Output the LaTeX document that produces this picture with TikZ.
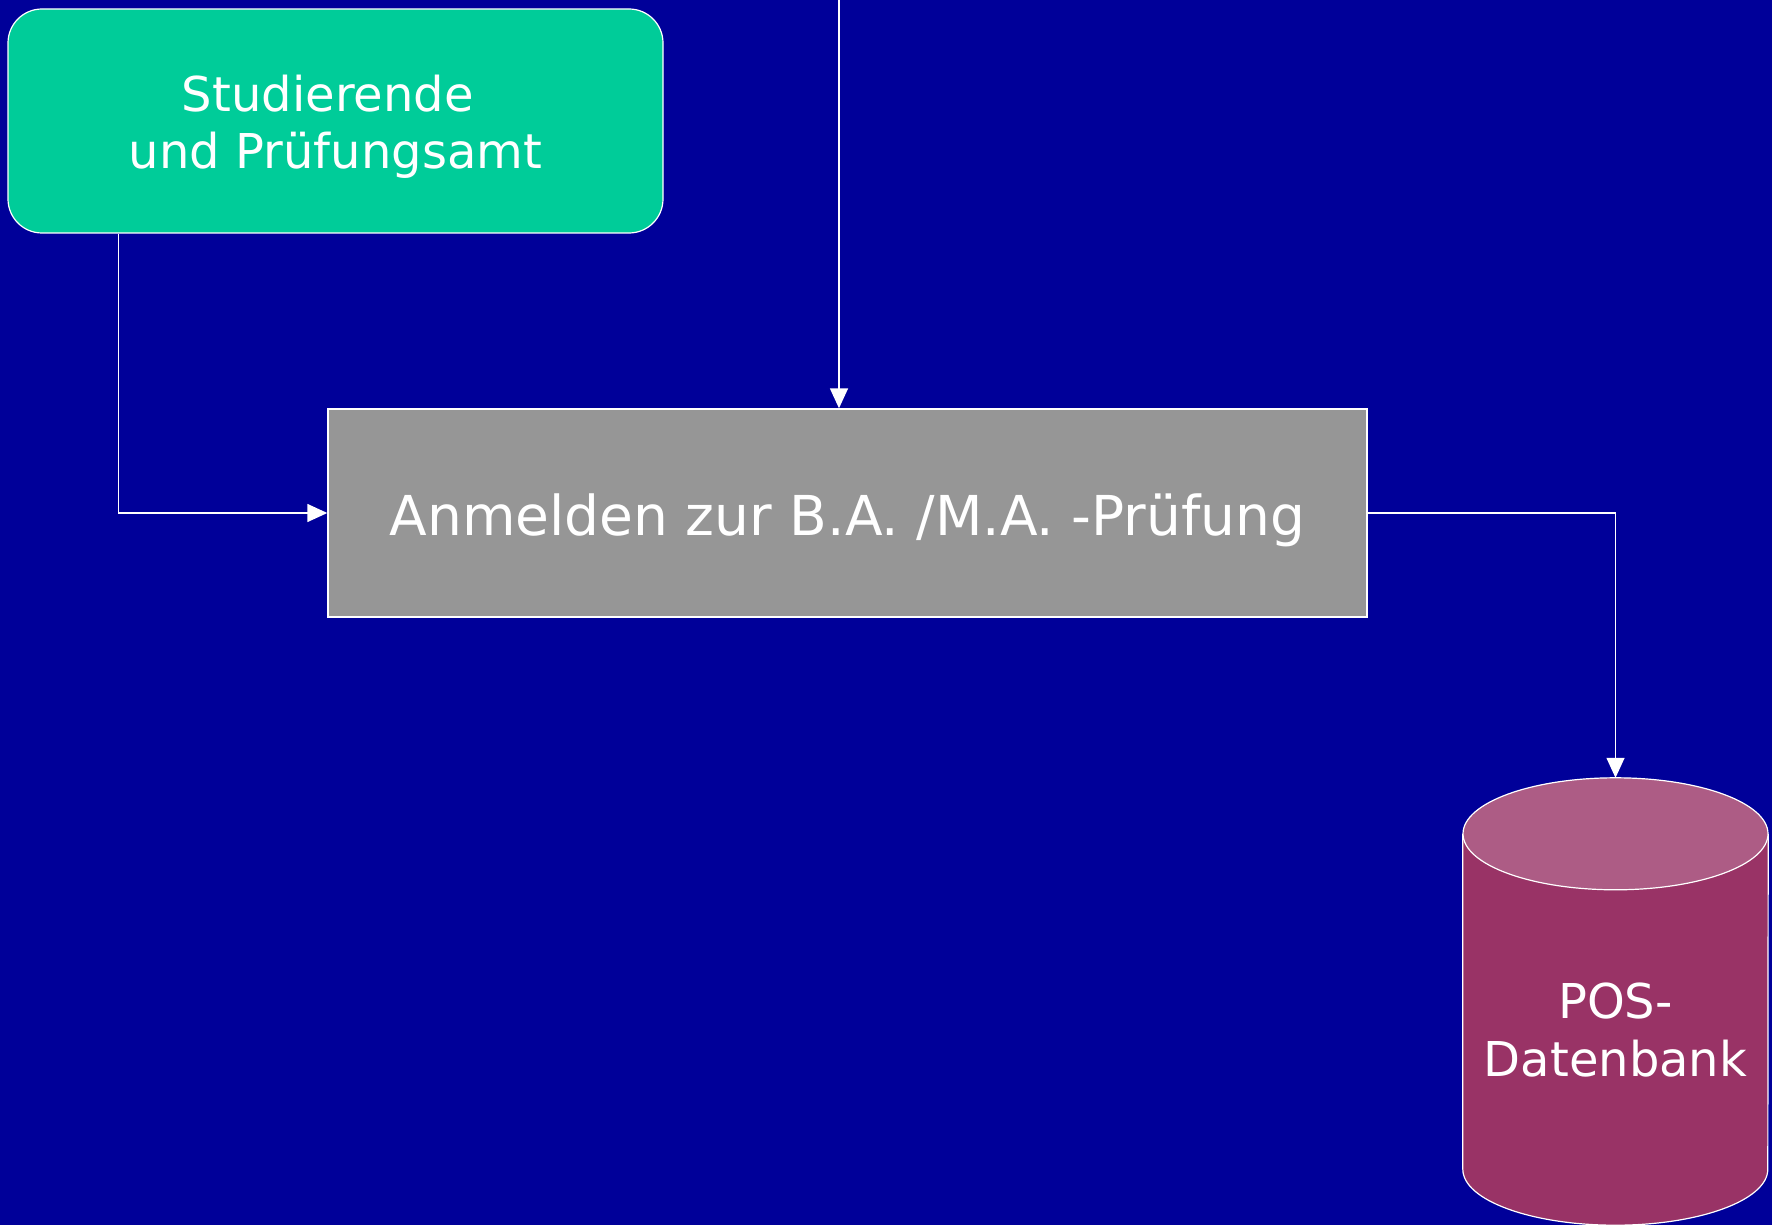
\documentclass[tikz,border=0pt]{standalone}
\usepackage{fontspec}
\setmainfont{DejaVu Sans}
\usetikzlibrary{arrows.meta,calc}
\definecolor{bgblue}{RGB}{0,0,153}
\definecolor{studgreen}{RGB}{0,204,153}
\definecolor{procgray}{RGB}{150,150,150}
\definecolor{cylbody}{RGB}{153,51,102}
\definecolor{cyltop}{RGB}{173,92,133}
\begin{document}
\begin{tikzpicture}[x=1pt,y=-1pt,
  conn/.style={draw=white, line width=1.5pt, -{Triangle[length=20pt,width=18pt]}},
  actor/.style={draw=white, line width=1.2pt, fill=studgreen, rounded corners=34pt,
    minimum width=655pt, minimum height=224pt, inner sep=0pt},
  process/.style={draw=white, line width=1.4pt, fill=procgray,
    minimum width=1039pt, minimum height=208pt, inner sep=0pt},
  boxtext/.style={text=white, align=center, inner sep=0pt},
  dbframe/.style={minimum width=305pt, minimum height=447pt, inner sep=0pt}
]
\fill[bgblue] (0,0) rectangle (1772,1225);
\useasboundingbox (0,0) rectangle (1772,1225);

\node[actor] (stud) at (335.5,121) {};
\node[boxtext, font=\fontsize{48}{57.5}\selectfont] (studtext) at (335.5,127)
  {Studierende\hspace*{0.32em}\\und Prüfungsamt};
\node[process] (anm) at (847.5,513) {};
\node[boxtext, font=\fontsize{55}{66}\selectfont] (anmtext) at (847.5,520)
  {Anmelden zur B.A. /M.A. -Prüfung};
\node[dbframe] (db) at (1615.5,1001.5) {};

% cylinder
\filldraw[fill=cylbody, draw=white, line width=1.2pt]
  ([yshift=-56pt]db.north west) -- ([yshift=56pt]db.south west)
  arc[start angle=180, end angle=360, x radius=152.5pt, y radius=56pt]
  -- ([yshift=-56pt]db.north east);
\filldraw[fill=cyltop, draw=white, line width=1.2pt]
  ([yshift=-56pt]db.north) ellipse [x radius=152.5pt, y radius=56pt];
\node[boxtext, font=\fontsize{48}{57.5}\selectfont] (dbtext) at (1615.5,1030) {POS-\\Datenbank};

\coordinate (topin) at (839,0);
\draw[conn] ([xshift=111pt]stud.south west) |- (anm.west);
\draw[conn] (topin) -- (topin |- anm.north);
\draw[conn] (anm.east) -| (db.north);
\end{tikzpicture}
\end{document}
